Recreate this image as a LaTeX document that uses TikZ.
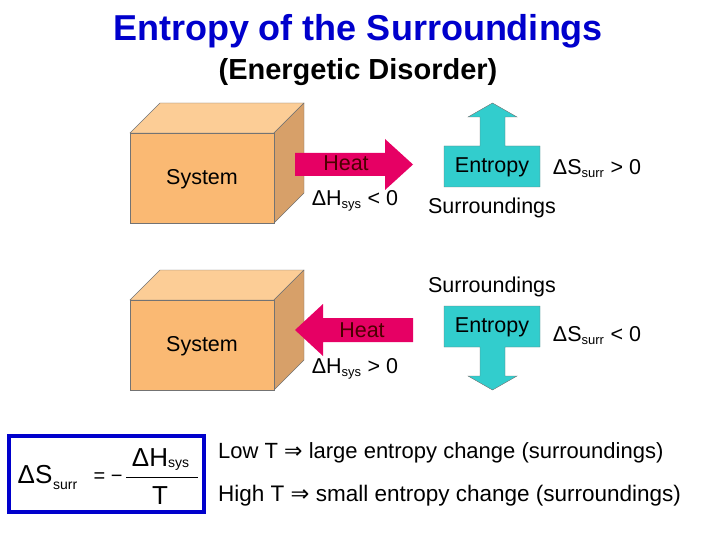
\documentclass[tikz,border=0pt]{standalone}
\usepackage{fontspec}
\setmainfont{Liberation Sans}
\newfontfamily\dejavu{DejaVu Sans}
\definecolor{tblue}{RGB}{0,0,204}
\definecolor{boxf}{RGB}{250,185,115}
\definecolor{boxt}{RGB}{252,205,150}
\definecolor{boxs}{RGB}{215,160,105}
\definecolor{heat}{RGB}{230,0,100}
\definecolor{ent}{RGB}{50,205,205}
\begin{document}
\begin{tikzpicture}[x=1pt,y=-1pt,
  lab/.style={inner sep=0pt,font=\fontsize{21.5}{24}\selectfont},
  edge/.style={draw=black!55,line width=0.4pt}]
\useasboundingbox (0,0) rectangle (720,540);
\node[font=\bfseries\fontsize{36}{40}\selectfont,text=tblue] (t1) at (358,31) {Entropy of the Surroundings};
\node[font=\bfseries\fontsize{29}{32}\selectfont] (t2) at (358,72) {(Energetic Disorder)};
\foreach \dy/\nm in {0/a,167/b}{
  \begin{scope}[yshift=-\dy]
  \fill[boxt,edge] (130,133) -- (160,103) -- (304,103) -- (274,133) -- cycle;
  \fill[boxs,edge] (274,133) -- (304,103) -- (304,193) -- (274,223) -- cycle;
  \fill[boxf,edge] (130,133) rectangle (274,223);
  \end{scope}}
\node[lab] (sysa) at (202,179) {System};
\node[lab] (sysb) at (202,346) {System};
% heat arrows
\fill[heat] (295,153) -- (385,153) -- (385,139) -- (413,164.5) -- (385,190) -- (385,176) -- (295,176) -- cycle;
\node[lab,text=black!70!red] (heata) at (346,163) {Heat};
\node[lab] (dha) at (355,201) {ΔH\textsubscript{\fontsize{13}{13}\selectfont sys} < 0};
\fill[heat] (413,318) -- (323,318) -- (323,304) -- (295,330) -- (323,356) -- (323,342) -- (413,342) -- cycle;
\node[lab,text=black!70!red] (heatb) at (362,330) {Heat};
\node[lab] (dhb) at (355,369) {ΔH\textsubscript{\fontsize{13}{13}\selectfont sys} > 0};
% entropy arrows
\fill[ent,edge] (444,146) -- (480,146) -- (480,117) -- (468,117) -- (492.5,103) -- (517,117) -- (505,117) -- (505,146) -- (540,146) -- (540,187) -- (444,187) -- cycle;
\node[lab] (enta) at (492,167) {Entropy};
\node[lab] (dsa) at (597,169) {ΔS\textsubscript{\fontsize{13}{13}\selectfont surr} > 0};
\node[lab] (sura) at (492,208) {Surroundings};
\fill[ent,edge] (444,306) -- (540,306) -- (540,347) -- (505,347) -- (505,376) -- (517,376) -- (492.5,390) -- (468,376) -- (480,376) -- (480,347) -- (444,347) -- cycle;
\node[lab] (entb) at (492,327) {Entropy};
\node[lab] (dsb) at (597,336) {ΔS\textsubscript{\fontsize{13}{13}\selectfont surr} < 0};
\node[lab] (surb) at (492,287) {Surroundings};
% formula
\draw[tblue,line width=3.5pt] (9,436) rectangle (204,512);
\node[inner sep=0pt,font=\fontsize{26}{28}\selectfont] (fs) at (35,475) {ΔS};
\node[inner sep=0pt,font=\fontsize{14}{15}\selectfont,anchor=west] (fsub) at (53,486) {surr};
\node[inner sep=0pt,font=\fontsize{20}{22}\selectfont] (feq) at (108,478) {= −};
\draw[line width=0.8pt] (126,477) -- (198,477);
\node[inner sep=0pt,font=\fontsize{26}{28}\selectfont] (fh) at (150,458) {ΔH};
\node[inner sep=0pt,font=\fontsize{14}{15}\selectfont,anchor=west] (fhs) at (168,465) {sys};
\node[inner sep=0pt,font=\fontsize{26}{28}\selectfont] (ft) at (160,496) {T};
\node[lab,font=\fontsize{22}{24}\selectfont,anchor=west] (low) at (218,453) {Low T {\dejavu ⇒} large entropy change (surroundings)};
\node[lab,font=\fontsize{22.5}{24}\selectfont,anchor=west] (high) at (218,496) {High T {\dejavu ⇒} small entropy change (surroundings)};
\end{tikzpicture}
\end{document}
